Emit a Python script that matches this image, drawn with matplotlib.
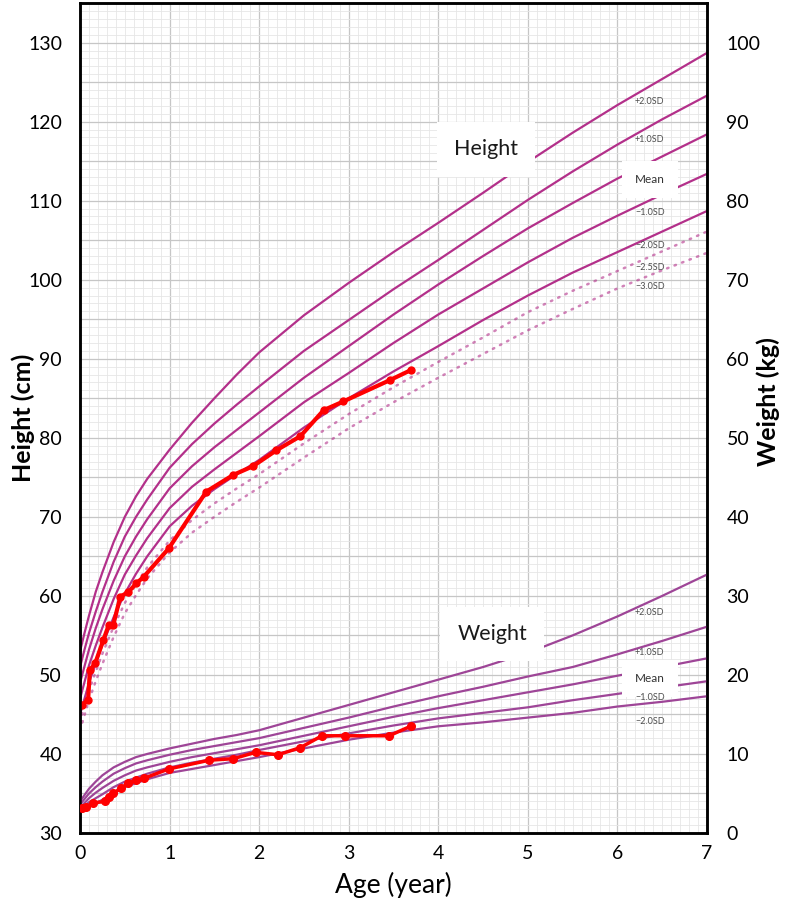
import matplotlib
matplotlib.use("Agg")
import matplotlib.pyplot as plt
from matplotlib.ticker import MultipleLocator, FuncFormatter

plt.rcParams['font.family'] = ['Lato', 'DejaVu Sans']

# reference curves (age in years)
ages = [0, 0.05, 0.1, 0.175, 0.25, 0.375, 0.5, 0.625, 0.75, 1, 1.25, 1.5, 1.75, 2,
        2.5, 3, 3.5, 4, 4.5, 5, 5.5, 6, 6.5, 7]

h_p2 = [53.0, 55.3, 57.5, 60.5, 63.0, 66.8, 70.0, 72.6, 74.8, 78.5, 81.9, 85.0, 88.0, 90.8,
        95.5, 99.6, 103.5, 107.2, 111.0, 114.9, 118.6, 122.1, 125.4, 128.7]
h_p1 = [51.0, 53.2, 55.3, 58.0, 60.5, 64.3, 67.5, 70.0, 72.2, 76.2, 79.2, 81.8, 84.2, 86.5,
        91.0, 94.9, 98.8, 102.5, 106.3, 110.1, 113.7, 117.1, 120.3, 123.3]
h_mean = [49.0, 51.1, 53.2, 55.9, 58.3, 61.9, 65.0, 67.5, 69.7, 73.6, 76.4, 78.8, 81.0, 83.2,
          87.6, 91.6, 95.6, 99.4, 103.0, 106.5, 109.7, 112.8, 115.6, 118.4]
h_m1 = [47.0, 49.1, 51.2, 53.7, 56.0, 59.6, 62.7, 65.1, 67.3, 71.1, 73.8, 76.0, 78.1, 80.2,
        84.5, 88.2, 92.0, 95.6, 98.9, 102.2, 105.3, 108.1, 110.8, 113.4]
h_m2 = [45.0, 47.0, 49.0, 51.5, 53.8, 57.3, 60.3, 62.8, 65.0, 68.8, 71.4, 73.5, 75.4, 77.2,
        81.3, 85.0, 88.4, 91.6, 94.9, 98.0, 100.9, 103.5, 106.1, 108.7]
h_m25 = [44.0, 46.0, 48.0, 50.4, 52.7, 56.1, 59.1, 61.5, 63.6, 67.0, 69.6, 71.7, 73.6, 75.4,
         79.3, 83.0, 86.4, 89.6, 92.7, 95.9, 98.6, 101.1, 103.6, 106.1]
h_m3 = [43.0, 44.9, 46.8, 49.2, 51.4, 54.8, 57.8, 60.1, 62.2, 65.5, 68.0, 70.0, 71.9, 73.7,
        77.5, 81.2, 84.5, 87.6, 90.6, 93.6, 96.3, 98.9, 101.2, 103.4]

w_p2 = [4.0, 4.8, 5.6, 6.5, 7.3, 8.3, 9.0, 9.6, 10.0, 10.7, 11.3, 11.9, 12.4, 13.0,
        14.6, 16.2, 17.8, 19.4, 21.0, 22.8, 25.0, 27.4, 30.0, 32.7]
w_p1 = [3.6, 4.3, 5.0, 5.8, 6.5, 7.5, 8.2, 8.8, 9.2, 9.9, 10.5, 11.0, 11.5, 12.0,
        13.3, 14.6, 16.0, 17.3, 18.5, 19.8, 21.0, 22.6, 24.3, 26.1]
w_mean = [3.2, 3.8, 4.4, 5.1, 5.7, 6.6, 7.3, 7.9, 8.3, 9.0, 9.6, 10.1, 10.6, 11.1,
          12.3, 13.5, 14.7, 15.8, 16.8, 17.8, 18.8, 19.9, 21.0, 22.1]
w_m1 = [2.9, 3.4, 3.9, 4.4, 4.9, 5.8, 6.5, 7.0, 7.5, 8.3, 8.9, 9.4, 9.9, 10.5,
        11.6, 12.6, 13.6, 14.5, 15.2, 15.9, 16.8, 17.6, 18.4, 19.2]
w_m2 = [2.6, 3.0, 3.4, 3.8, 4.2, 5.1, 5.8, 6.3, 6.8, 7.6, 8.1, 8.6, 9.1, 9.6,
        10.7, 11.8, 12.7, 13.5, 14.0, 14.6, 15.2, 16.0, 16.6, 17.3]

# patient measurements
pt_h_age = [0.02, 0.09, 0.11, 0.17, 0.26, 0.32, 0.37, 0.45, 0.54, 0.63, 0.71, 0.99,
            1.41, 1.71, 1.93, 2.19, 2.46, 2.72, 2.94, 3.46, 3.70]
pt_h = [46.2, 46.8, 50.6, 51.5, 54.4, 56.3, 56.3, 59.9, 60.5, 61.6, 62.4, 66.0,
        73.2, 75.3, 76.4, 78.4, 80.2, 83.5, 84.6, 87.3, 88.6]

pt_w_age = [0.02, 0.07, 0.15, 0.28, 0.32, 0.37, 0.46, 0.54, 0.63, 0.71, 0.99,
            1.44, 1.71, 1.96, 2.21, 2.46, 2.70, 2.96, 3.45, 3.69]
pt_w = [3.1, 3.3, 3.8, 4.0, 4.6, 5.0, 5.7, 6.3, 6.7, 6.9, 8.1,
        9.2, 9.4, 10.2, 9.9, 10.8, 12.3, 12.3, 12.3, 13.5]

h_labels = ['+2.0SD', '+1.0SD', 'Mean', '\u22121.0SD', '\u22122.0SD', '\u22122.5SD', '\u22123.0SD']
h_label_y = [122.6, 117.8, 112.7, 108.5, 104.3, 101.5, 99.1]
w_labels = ['+2.0SD', '+1.0SD', 'Mean', '\u22121.0SD', '\u22122.0SD']
w_label_y = [27.9, 22.8, 19.5, 17.1, 14.1]
label_x = 6.36

h_color = '#b3308a'
w_color = '#9e4597'

fig = plt.figure(figsize=(7.87, 9.07), dpi=100)
ax = fig.add_axes([0.1017, 0.0816, 0.7967, 0.915])
ax2 = ax.twinx()

ax.set_xlim(0, 7)
ax.set_ylim(30, 135)
ax2.set_ylim(0, 105)

ax.xaxis.set_major_locator(MultipleLocator(1))
ax.xaxis.set_minor_locator(MultipleLocator(0.1))
ax.yaxis.set_major_locator(MultipleLocator(5))
ax.yaxis.set_minor_locator(MultipleLocator(1))
ax.yaxis.set_major_formatter(FuncFormatter(lambda v, p: f"{v:.0f}" if v % 10 == 0 else ""))
ax2.yaxis.set_major_locator(MultipleLocator(10))

ax.grid(which='minor', color='#e6e6e6', lw=0.6)
ax.grid(which='major', color='#c6c6c6', lw=0.9)
ax.set_axisbelow(True)

for vals in [h_p2, h_p1, h_mean, h_m1, h_m2]:
    ax.plot(ages, vals, color=h_color, lw=1.6, solid_joinstyle='round', zorder=2)
for vals in [h_m25, h_m3]:
    ax.plot(ages, vals, color=h_color, lw=1.8, ls=(0, (0.6, 2.6)), alpha=0.6,
            dash_capstyle='round', zorder=2)

for vals in [w_p2, w_p1, w_mean, w_m1, w_m2]:
    ax2.plot(ages, vals, color=w_color, lw=1.6, solid_joinstyle='round', zorder=2)

for txt, y in zip(h_labels, h_label_y):
    if txt == 'Mean':
        ax.text(label_x, y, txt, fontsize=8.5, color='#333333', ha='center', va='center',
                zorder=4, bbox=dict(boxstyle='square,pad=1.1', fc='white', ec='none'))
    else:
        ax.text(label_x, y, txt, fontsize=6.5, color='#4d4d4d', ha='center', va='center', zorder=4)

for txt, y in zip(w_labels, w_label_y):
    if txt == 'Mean':
        ax2.text(label_x, y, txt, fontsize=8.5, color='#333333', ha='center', va='center',
                 zorder=4, bbox=dict(boxstyle='square,pad=1.1', fc='white', ec='none'))
    else:
        ax2.text(label_x, y, txt, fontsize=6.5, color='#4d4d4d', ha='center', va='center', zorder=4)

ax.text(4.53, 116.5, 'Height', fontsize=15.5, color='#1a1a1a', ha='center', va='center',
        zorder=4, bbox=dict(boxstyle='square,pad=0.8', fc='white', ec='none'))
ax2.text(4.6, 25.2, 'Weight', fontsize=15.5, color='#1a1a1a', ha='center', va='center',
         zorder=4, bbox=dict(boxstyle='square,pad=0.8', fc='white', ec='none'))

ax.plot(pt_h_age, pt_h, color='#ff0000', lw=3, marker='o', ms=5, zorder=5)
ax2.plot(pt_w_age, pt_w, color='#ff0000', lw=2.5, marker='o', ms=5.5, zorder=5)

ax.tick_params(axis='both', which='both', length=0, labelsize=14)
ax.tick_params(axis='y', pad=13)
ax.tick_params(axis='x', pad=9)
ax2.tick_params(axis='y', which='both', length=0, labelsize=14, pad=14)

for a in (ax, ax2):
    for s in a.spines.values():
        s.set_linewidth(1.8)
        s.set_color('black')

ax.set_xlabel('Age (year)', fontsize=19, labelpad=7)
ax.set_ylabel('Height (cm)', fontsize=18, fontweight='bold')
ax2.set_ylabel('Weight (kg)', fontsize=18, fontweight='bold')
ax.yaxis.set_label_coords(-0.072, 0.5)
ax2.yaxis.set_label_coords(1.079, 0.52)

fig.savefig('out.png', dpi=100)
